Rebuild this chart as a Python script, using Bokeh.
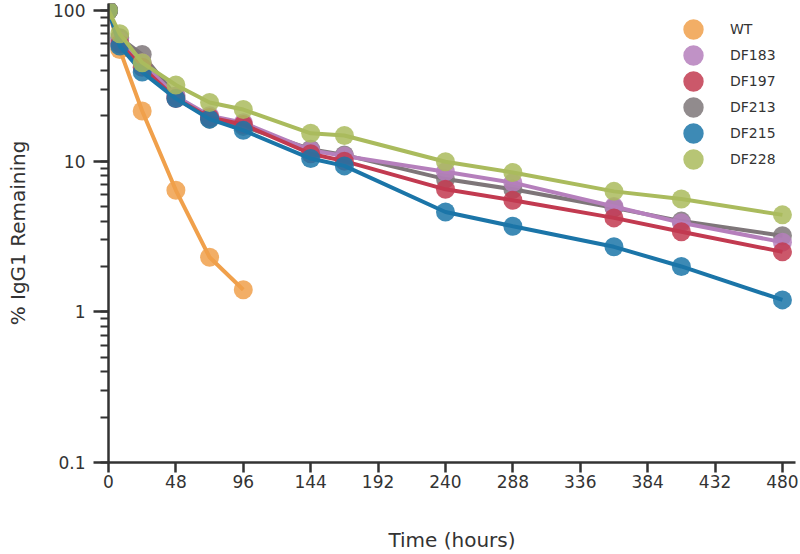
from bokeh.plotting import figure
from bokeh.models import FixedTicker, LogTicker, NumeralTickFormatter, Legend, LegendItem
from bokeh.embed import file_html
from bokeh.resources import INLINE

# ---- data ----
hours = [0, 8, 24, 48, 72, 96, 144, 168, 240, 288, 360, 408, 480]
wt_hours = [0, 8, 24, 48, 72, 96]
wt = [100, 55, 21.5, 6.4, 2.3, 1.4]
df183 = [100, 63, 45, 27, 20, 18, 11.8, 10.8, 8.5, 7.2, 5.0, 3.9, 2.9]
df197 = [100, 60, 42, 26, 19.5, 17.5, 11.2, 10.0, 6.5, 5.5, 4.2, 3.4, 2.5]
df213 = [100, 66, 51, 27, 19, 17, 12.0, 11.0, 7.6, 6.5, 4.9, 4.0, 3.2]
df215 = [100, 58, 39, 26, 19, 16, 10.4, 9.3, 4.6, 3.7, 2.7, 2.0, 1.2]
df228 = [100, 70, 45, 32, 24.5, 22, 15.3, 14.8, 9.9, 8.4, 6.3, 5.6, 4.4]

x_ticks = [0, 48, 96, 144, 192, 240, 288, 336, 384, 432, 480]
legend_order = ["WT", "DF183", "DF197", "DF213", "DF215", "DF228"]
colors = {
    "WT": "#F0A04B",
    "DF183": "#B57FBC",
    "DF197": "#C23A50",
    "DF213": "#7E7679",
    "DF215": "#1B75A8",
    "DF228": "#AABB5D",
}
series = {
    "WT": (wt_hours, wt),
    "DF183": (hours, df183),
    "DF197": (hours, df197),
    "DF213": (hours, df213),
    "DF215": (hours, df215),
    "DF228": (hours, df228),
}
draw_order = ["WT", "DF213", "DF183", "DF197", "DF215", "DF228"]

TXT = "#333333"
FONT = "DejaVu Sans"
MARKER_ALPHA = 0.85


def on_white(hex_color, alpha):
    h = hex_color.lstrip("#")
    rgb = [int(h[i:i + 2], 16) for i in (0, 2, 4)]
    mixed = [round(c * alpha + 255 * (1 - alpha)) for c in rgb]
    return "#%02x%02x%02x" % tuple(mixed)


p = figure(width=800, height=554, x_range=(0, 489.3), y_range=(0.1, 111.2),
           y_axis_type="log", output_backend="svg", toolbar_location=None,
           min_border_left=108, min_border_right=5, min_border_top=3,
           min_border_bottom=89)
p.outline_line_color = None
p.xgrid.visible = False
p.ygrid.visible = False
p.background_fill_color = "white"

for name in draw_order:
    xs, ys = series[name]
    c = colors[name]
    p.line(xs, ys, line_width=4, line_color=c)
    p.scatter(xs, ys, size=19, marker="circle", fill_color=c,
              fill_alpha=MARKER_ALPHA, line_color=None)

# hidden key renderers: a thick outline makes the legend circles large
legend_items = []
for name in legend_order:
    xs, ys = series[name]
    lc = on_white(colors[name], MARKER_ALPHA)
    r = p.scatter(xs, ys, marker="circle", fill_color=lc, line_color=lc,
                  line_width=10, visible=False)
    legend_items.append(LegendItem(label=name, renderers=[r]))

for ax in (p.xaxis[0], p.yaxis[0]):
    ax.axis_line_width = 2.5
    ax.axis_line_color = TXT
    ax.major_tick_line_width = 2.5
    ax.major_tick_line_color = TXT
    ax.minor_tick_line_width = 2
    ax.minor_tick_line_color = TXT
    ax.major_tick_in = 0
    ax.minor_tick_in = 0
    ax.major_label_text_font = FONT
    ax.major_label_text_font_size = "17px"
    ax.major_label_text_color = TXT
    ax.axis_label_text_font = FONT
    ax.axis_label_text_font_size = "20px"
    ax.axis_label_text_font_style = "normal"
    ax.axis_label_text_color = TXT

xa = p.xaxis[0]
xa.ticker = FixedTicker(ticks=x_ticks, minor_ticks=[])
xa.major_tick_out = 10
xa.major_label_standoff = 2
xa.axis_label = "Time (hours)"
xa.axis_label_standoff = 37

ya = p.yaxis[0]
ya.ticker = LogTicker(desired_num_ticks=4, num_minor_ticks=10)
ya.formatter = NumeralTickFormatter(format="0.[0]")
ya.major_tick_out = 15
ya.minor_tick_out = 8
ya.major_label_standoff = 8
ya.axis_label = "% IgG1 Remaining"
ya.axis_label_standoff = 20

legend = Legend(
    items=legend_items,
    location=(572, 290), glyph_width=26, glyph_height=26, label_standoff=24,
    spacing=0, padding=0, margin=0, border_line_alpha=0, background_fill_alpha=0,
    inactive_fill_alpha=0,
    label_text_font=FONT, label_text_font_size="14px", label_text_color=TXT,
    label_height=20,
)
p.add_layout(legend)

open("out.html", "w").write(file_html(p, INLINE))
